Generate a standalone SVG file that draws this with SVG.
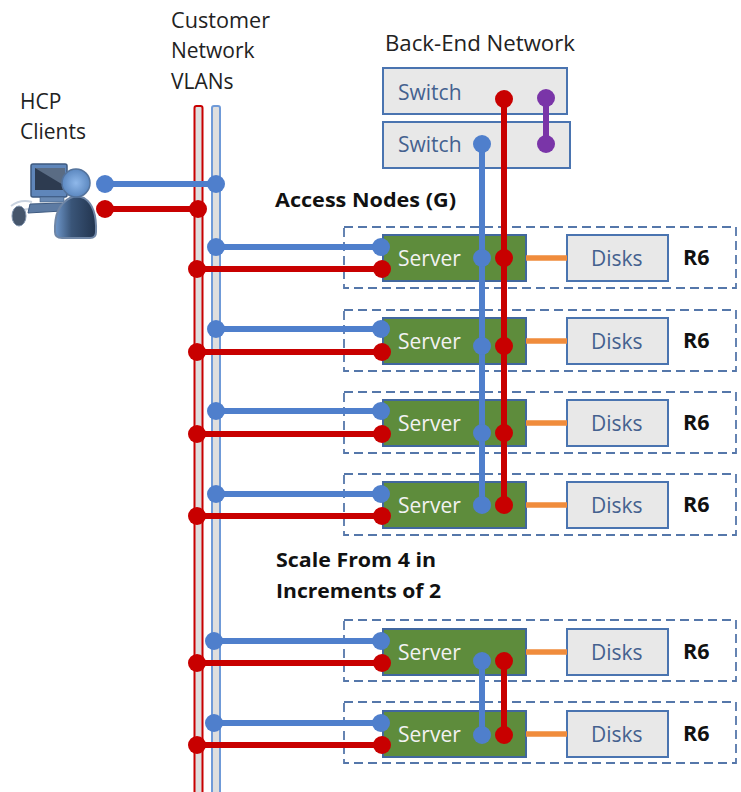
<svg xmlns="http://www.w3.org/2000/svg" width="741" height="792" viewBox="0 0 741 792">
<style>
text{font-family:"Open Sans","Noto Sans","Liberation Sans",sans-serif;font-size:21px}
.lbl{fill:#222}
.b{font-weight:700;fill:#111;font-size:20px}
.r6{font-weight:700;fill:#111;font-size:21.500px}
.sw{fill:#e8e8e8;stroke:#4a74b0;stroke-width:2}
.dk{fill:#e8e8e8;stroke:#4a74b0;stroke-width:2}
.sv{fill:#5e8c3c;stroke:#41679e;stroke-width:2}
.ds{fill:none;stroke:#5577aa;stroke-width:1.8;stroke-dasharray:9 5}
.tw{fill:#f2f2f2}
.tb{fill:#44618f}
.blue{stroke:#4f7fcc;stroke-width:6;fill:none}
.red{stroke:#c80000;stroke-width:6;fill:none}
.pur{stroke:#7a35a8;stroke-width:6;fill:none}
.org{stroke:#f08c3c;stroke-width:5.500;fill:none}
.bd{fill:#4f7fcc}.rd{fill:#c80000}.pd{fill:#7a35a8}
</style>
<defs>
<linearGradient id="body" x1="0" x2="1" y1="0" y2="0"><stop offset="0" stop-color="#6f98cc"/><stop offset="0.4" stop-color="#3a5578"/><stop offset="1" stop-color="#22344e"/></linearGradient>
<radialGradient id="head"><stop offset="0" stop-color="#8fb8ea"/><stop offset="1" stop-color="#5c88c0"/></radialGradient>
</defs>
<rect width="741" height="792" fill="#fff"/>
<g id="vlans">
<rect x="194.500" y="106" width="8" height="690" rx="2" fill="#dedede" stroke="#c80000" stroke-width="2"/>
<rect x="212" y="106" width="8" height="690" rx="2" fill="#dedede" stroke="#6f9ad8" stroke-width="2"/>
<text class="lbl" x="171" y="28" textLength="99" lengthAdjust="spacingAndGlyphs">Customer</text><text class="lbl" x="171" y="58">Network</text><text class="lbl" x="171" y="89">VLANs</text>
</g>
<g id="clients">
<text class="lbl" x="20" y="109">HCP</text><text class="lbl" x="20" y="139">Clients</text>
<path d="M11 206 Q20 199 32 202 M14 209 Q24 212 34 207" fill="none" stroke="#c9d3e0" stroke-width="2"/>
<ellipse cx="19" cy="216" rx="7" ry="10" fill="#46566c" stroke="#7f93ad"/>
<rect x="31" y="164" width="36" height="33" rx="2" fill="#5f86ba" stroke="#3e5a80" stroke-width="1.500"/>
<polygon points="35,168 65,168 65,190 35,190" fill="#2d3b50"/>
<polygon points="35,168 65,168 65,186" fill="#5a6c84"/>
<rect x="40" y="197" width="24" height="5" fill="#6a8ab4" stroke="#3e5a80" stroke-width="0.600"/>
<path d="M30 204 L62 203 L62 211 L28 213 Z" fill="#5d7ba3" stroke="#3e5a80"/>
<path d="M55 232 Q54 206 70 198 Q77 195 84 198 Q97 206 96 232 Q96 238 90 238 L62 238 Q55 238 55 232Z" fill="url(#body)" stroke="#6f86a6" stroke-width="2"/>
<circle cx="76" cy="183" r="14" fill="url(#head)" stroke="#54739c" stroke-width="1.500"/>
</g>
<g id="switch-1"><rect class="sw" x="383" y="68" width="184" height="46"/><text class="tb" x="398" y="100">Switch</text></g>
<g id="switch-2"><rect class="sw" x="383" y="122" width="187" height="46"/><text class="tb" x="398" y="152">Switch</text></g>
<text class="lbl" x="385" y="51" textLength="190" lengthAdjust="spacingAndGlyphs">Back-End Network</text>
<text class="b" x="275" y="207" textLength="181" lengthAdjust="spacingAndGlyphs">Access Nodes (G)</text>
<text class="b" x="276" y="567" textLength="160" lengthAdjust="spacingAndGlyphs">Scale From 4 in</text>
<text class="b" x="276" y="598" textLength="165" lengthAdjust="spacingAndGlyphs">Increments of 2</text>
<g id="node-1"><rect class="ds" x="344" y="227" width="392" height="61"/><rect class="sv" x="383" y="235" width="143" height="46"/><text class="tw" x="398" y="266">Server</text><rect class="dk" x="567" y="235" width="101" height="46"/><text class="tb" x="591" y="266">Disks</text><text class="r6" x="683" y="265">R6</text></g>
<g id="node-2"><rect class="ds" x="344" y="310" width="392" height="61"/><rect class="sv" x="383" y="318" width="143" height="46"/><text class="tw" x="398" y="349">Server</text><rect class="dk" x="567" y="318" width="101" height="46"/><text class="tb" x="591" y="349">Disks</text><text class="r6" x="683" y="348">R6</text></g>
<g id="node-3"><rect class="ds" x="344" y="392" width="392" height="61"/><rect class="sv" x="383" y="400" width="143" height="46"/><text class="tw" x="398" y="431">Server</text><rect class="dk" x="567" y="400" width="101" height="46"/><text class="tb" x="591" y="431">Disks</text><text class="r6" x="683" y="430">R6</text></g>
<g id="node-4"><rect class="ds" x="344" y="474" width="392" height="61"/><rect class="sv" x="383" y="482" width="143" height="46"/><text class="tw" x="398" y="513">Server</text><rect class="dk" x="567" y="482" width="101" height="46"/><text class="tb" x="591" y="513">Disks</text><text class="r6" x="683" y="512">R6</text></g>
<g id="node-5"><rect class="ds" x="344" y="620" width="392" height="61"/><rect class="sv" x="383" y="629" width="143" height="46"/><text class="tw" x="398" y="660">Server</text><rect class="dk" x="567" y="629" width="101" height="46"/><text class="tb" x="591" y="660">Disks</text><text class="r6" x="683" y="659">R6</text></g>
<g id="node-6"><rect class="ds" x="344" y="702" width="392" height="61"/><rect class="sv" x="383" y="711" width="143" height="46"/><text class="tw" x="398" y="742">Server</text><rect class="dk" x="567" y="711" width="101" height="46"/><text class="tb" x="591" y="742">Disks</text><text class="r6" x="683" y="741">R6</text></g>
<g id="connectors">
<path class="org" d="M526 258H567M526 341H567M526 423H567M526 505H567M526 652H567M526 734H567"/>
<path class="blue" d="M105 184H216M216 247H381M216 329H381M216 411H381M216 494H381M214 641H381M214 723H381"/>
<path class="red" d="M105 209H198M197 269H382M197 352H382M197 434H382M197 516H382M197 663H382M197 745H382"/>
<path class="blue" d="M482 144V505M482 661V735"/>
<path class="red" d="M504 99V505M504 661V735"/>
<path class="pur" d="M546 98V144"/>
<g class="bd">
<circle cx="105" cy="184" r="9"/><circle cx="216" cy="184" r="9"/>
<circle cx="216" cy="247" r="9"/><circle cx="216" cy="329" r="9"/><circle cx="216" cy="411" r="9"/><circle cx="216" cy="494" r="9"/><circle cx="214" cy="641" r="9"/><circle cx="214" cy="723" r="9"/>
<circle cx="381" cy="247" r="9"/><circle cx="381" cy="329" r="9"/><circle cx="381" cy="411" r="9"/><circle cx="381" cy="494" r="9"/><circle cx="381" cy="641" r="9"/><circle cx="381" cy="723" r="9"/>
<circle cx="482" cy="144" r="9"/><circle cx="482" cy="258" r="9"/><circle cx="482" cy="346" r="9"/><circle cx="482" cy="433" r="9"/><circle cx="482" cy="505" r="9"/><circle cx="482" cy="661" r="9"/><circle cx="482" cy="735" r="9"/>
</g>
<g class="rd">
<circle cx="105" cy="209" r="9"/><circle cx="198" cy="209" r="9"/>
<circle cx="197" cy="269" r="9"/><circle cx="197" cy="352" r="9"/><circle cx="197" cy="434" r="9"/><circle cx="197" cy="516" r="9"/><circle cx="197" cy="663" r="9"/><circle cx="197" cy="745" r="9"/>
<circle cx="382" cy="269" r="9"/><circle cx="382" cy="352" r="9"/><circle cx="382" cy="434" r="9"/><circle cx="382" cy="516" r="9"/><circle cx="382" cy="663" r="9"/><circle cx="382" cy="745" r="9"/>
<circle cx="504" cy="99" r="9"/><circle cx="504" cy="258" r="9"/><circle cx="504" cy="346" r="9"/><circle cx="504" cy="433" r="9"/><circle cx="504" cy="505" r="9"/><circle cx="504" cy="661" r="9"/><circle cx="504" cy="735" r="9"/>
</g>
<g class="pd"><circle cx="546" cy="98" r="9"/><circle cx="546" cy="144" r="9"/></g>
</g>
</svg>
